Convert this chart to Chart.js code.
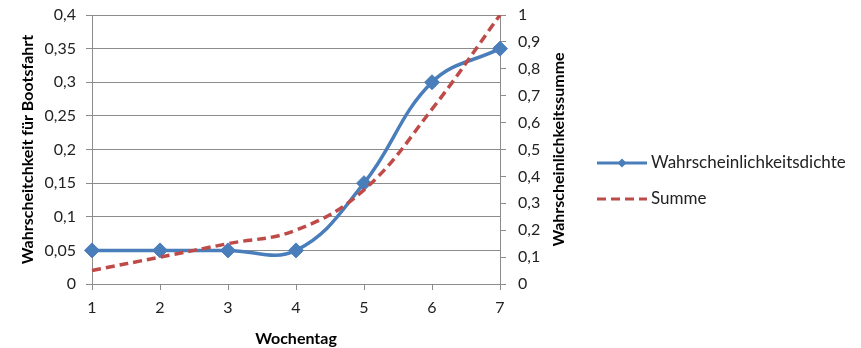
<!DOCTYPE html>
<html>
<head>
<meta charset="utf-8">
<script src="https://cdn.jsdelivr.net/npm/chart.js@4.4.1/dist/chart.umd.min.js"></script>
<style>
  html, body { margin: 0; padding: 0; background: #fff; }
  #rahmen { width: 861px; height: 348px; }
</style>
</head>
<body>
<div id="rahmen"><canvas id="grafico"></canvas></div>
<script>
const tage = ["1", "2", "3", "4", "5", "6", "7"];
const dichte = [0.05, 0.05, 0.05, 0.05, 0.15, 0.3, 0.35];
const summe = [0.05, 0.1, 0.15, 0.2, 0.35, 0.65, 1.0];

const blau = "#4a7ebb";
const rot = "#be4b48";
const grau = "#8c8c8c";
const schrift = "Lato";

function komma(v) {
  return (Math.round(v * 100) / 100).toString().replace(".", ",");
}

// Titel der rechten Achse (von unten nach oben) und Legende rechts
const extras = {
  id: "extras",
  afterDraw(chart) {
    const g = chart.ctx;
    const a = chart.chartArea;

    g.save();
    g.translate(chart.scales.y2.right - 9, (a.top + a.bottom) / 2);
    g.rotate(-Math.PI / 2);
    g.font = "bold 16px " + schrift;
    g.fillStyle = "#000";
    g.textAlign = "center";
    g.textBaseline = "middle";
    g.fillText("Wahrscheinlichkeitssumme", 0, 0);
    g.restore();

    // Legende
    const x0 = 597;
    const ys = [163, 199];
    chart.data.datasets.forEach((ds, i) => {
      const y = ys[i];
      g.save();
      g.strokeStyle = ds.borderColor;
      g.lineWidth = 3;
      if (ds.borderDash) g.setLineDash(ds.borderDash);
      g.beginPath();
      g.moveTo(x0, y);
      g.lineTo(x0 + 50, y);
      g.stroke();
      if (ds.pointRadius > 0) {
        g.fillStyle = ds.borderColor;
        g.beginPath();
        g.moveTo(x0 + 25, y - 4.5);
        g.lineTo(x0 + 29.5, y);
        g.lineTo(x0 + 25, y + 4.5);
        g.lineTo(x0 + 20.5, y);
        g.closePath();
        g.fill();
      }
      g.font = "17px " + schrift;
      g.fillStyle = "#222";
      g.textAlign = "left";
      g.textBaseline = "middle";
      g.fillText(ds.label, x0 + 54, y);
      g.restore();
    });
  }
};

function obenFest(s) {
  s.paddingTop = 15;
}

const ctx = document.getElementById("grafico").getContext("2d");

const grafico = new Chart(ctx, {
  type: "line",
  data: {
    labels: tage,
    datasets: [{
      label: "Wahrscheinlichkeitsdichte",
      data: dichte,
      yAxisID: "y",
      borderColor: blau,
      backgroundColor: blau,
      borderWidth: 3.5,
      tension: 0.4,
      pointStyle: "rectRot",
      pointRadius: 7.5,
      pointBorderWidth: 1,
      pointBackgroundColor: blau,
      pointBorderColor: blau,
      order: 1
    }, {
      label: "Summe",
      data: summe,
      yAxisID: "y2",
      borderColor: rot,
      backgroundColor: rot,
      borderWidth: 3.5,
      borderDash: [9, 5],
      tension: 0.4,
      pointRadius: 0,
      order: 0
    }]
  },
  options: {
    responsive: true,
    maintainAspectRatio: false,
    animation: false,
    layout: {
      padding: { top: 0, right: 293, bottom: 0, left: 0 }
    },
    plugins: {
      tooltip: { enabled: false },
      legend: { display: false }
    },
    scales: {
      x: {
        afterFit: function(s) { s.height = 64; },
        grid: {
          drawOnChartArea: false,
          color: grau,
          tickLength: 6
        },
        border: { color: grau },
        ticks: {
          color: "#222",
          padding: 8,
          maxRotation: 0,
          font: { family: schrift, size: 16 }
        },
        title: {
          display: true,
          text: "Wochentag",
          color: "#000",
          padding: { top: 3, bottom: 0 },
          font: { family: schrift, size: 16, weight: "bold" }
        }
      },
      y: {
        position: "left",
        min: 0,
        max: 0.4,
        afterFit: function(s) { s.width = 92; obenFest(s); },
        grid: { color: grau, tickLength: 6 },
        border: { color: grau },
        ticks: {
          stepSize: 0.05,
          color: "#222",
          padding: 10,
          font: { family: schrift, size: 16 },
          callback: komma
        },
        title: {
          display: true,
          text: "Wahrscheitchkeit für Bootsfahrt",
          color: "#000",
          padding: { top: 18, bottom: 4 },
          font: { family: schrift, size: 16, weight: "bold" }
        }
      },
      y2: {
        position: "right",
        min: 0,
        max: 1,
        afterFit: function(s) { s.width = 68; obenFest(s); },
        grid: { drawOnChartArea: false, color: grau, tickLength: 6 },
        border: { color: grau },
        ticks: {
          stepSize: 0.1,
          color: "#222",
          padding: 12,
          font: { family: schrift, size: 16 },
          callback: komma
        }
      }
    }
  },
  plugins: [extras]
});
</script>
</body>
</html>
